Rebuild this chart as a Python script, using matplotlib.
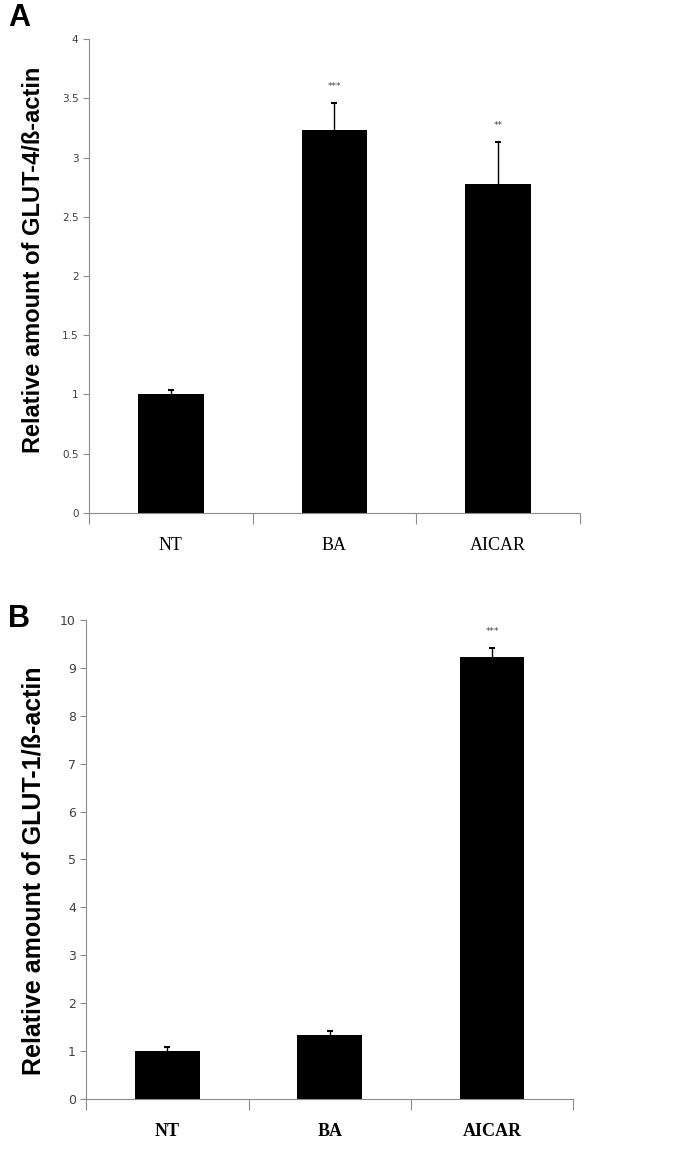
import numpy as np
import matplotlib
matplotlib.use('Agg')
import matplotlib.pyplot as plt

groups = ['NT', 'BA', 'AICAR']

# panel A: GLUT-4
glut4 = [1.0, 3.23, 2.78]
glut4_err = [0.04, 0.23, 0.35]
glut4_sig = ['', '***', '**']

# panel B: GLUT-1
glut1 = [1.0, 1.33, 9.23]
glut1_err = [0.08, 0.09, 0.19]
glut1_sig = ['', '', '***']

fig = plt.figure(figsize=(6.84, 11.5), dpi=100)
axA = fig.add_axes([0.130, 0.554, 0.718, 0.412])
axB = fig.add_axes([0.126, 0.0443, 0.712, 0.4167])

gray = '#8c8c8c'


def panel(ax, vals, errs, sig, ymax, yticks, ticklabels, tick_fs, cat_font, ylabel, lab_fs, lab_xy):
    x = np.arange(len(groups))
    ax.bar(x, vals, width=0.40, color='black', zorder=2)
    ax.errorbar(x, vals, yerr=errs, fmt='none',
                ecolor='black', elinewidth=1.0, capsize=2.5, capthick=1.5, zorder=1)
    for xi, v, e, s in zip(x, vals, errs, sig):
        if s:
            ax.text(xi, v + e + ymax * 0.025, s, ha='center', va='bottom',
                    fontsize=6.5, color='#444444')
    ax.set_xlim(-0.5, 2.5)
    ax.set_ylim(0, ymax)
    ax.set_yticks(yticks)
    ax.set_yticklabels(ticklabels, fontsize=tick_fs, color='#404040')
    ax.tick_params(axis='y', colors=gray, labelcolor='#404040', length=4, width=0.8)
    # excel style: ticks between categories, labels in middle
    ax.set_xticks([-0.5, 0.5, 1.5, 2.5])
    ax.set_xticklabels([])
    ax.tick_params(axis='x', which='major', colors=gray, length=8, width=0.8)
    ax.set_xticks(x, minor=True)
    ax.set_xticklabels(groups, minor=True, **cat_font)
    ax.tick_params(axis='x', which='minor', length=0, pad=17, labelcolor='black')
    for sp in ['top', 'right']:
        ax.spines[sp].set_visible(False)
    ax.spines['left'].set_color(gray)
    ax.spines['bottom'].set_color(gray)
    ax.spines['left'].set_linewidth(0.8)
    ax.spines['bottom'].set_linewidth(0.8)
    ax.set_ylabel(ylabel, fontsize=lab_fs, fontweight='bold', family='Liberation Sans')
    ax.yaxis.set_label_coords(*lab_xy)


panel(axA, glut4, glut4_err, glut4_sig, 4,
      [0, 0.5, 1, 1.5, 2, 2.5, 3, 3.5, 4],
      ['0', '0.5', '1', '1.5', '2', '2.5', '3', '3.5', '4'], 7.5,
      dict(fontsize=13, family='Liberation Serif'),
      'Relative amount of GLUT-4/ß-actin', 17, (-0.090, 0.534))

panel(axB, glut1, glut1_err, glut1_sig, 10,
      list(range(11)), [str(i) for i in range(11)], 9,
      dict(fontsize=13, family='Liberation Serif', fontweight='bold'),
      'Relative amount of GLUT-1/ß-actin', 18, (-0.084, 0.476))

fig.text(0.012, 0.984, 'A', fontsize=22, fontweight='bold', family='Liberation Sans', va='center')
fig.text(0.012, 0.462, 'B', fontsize=22, fontweight='bold', family='Liberation Sans', va='center')

fig.savefig('out.png', dpi=100)
